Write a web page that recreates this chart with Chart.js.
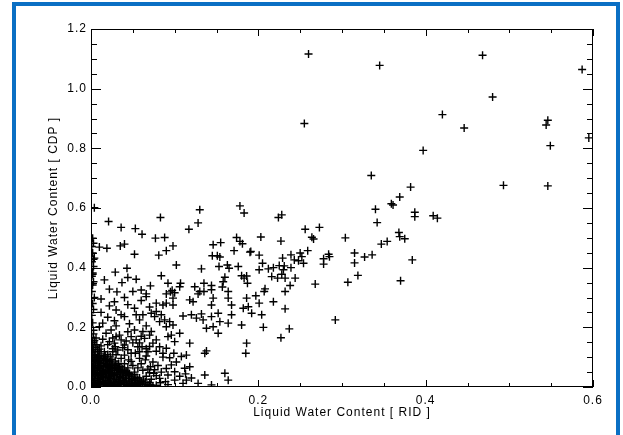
<!DOCTYPE html>
<html>
<head>
<meta charset="utf-8">
<script src="https://cdn.jsdelivr.net/npm/chart.js@4.4.1/dist/chart.umd.min.js"></script>
<style>
html, body { margin: 0; padding: 0; background: #fff; }
#wrap { position: relative; width: 623px; height: 435px; overflow: hidden; }
#frame { position: absolute; left: 12px; top: 2px; width: 600px; height: 450px; border: 4px solid #0a6fc4; border-bottom: none; pointer-events: none; }
canvas { position: absolute; left: 0; top: 0; }
</style>
</head>
<body>
<div id="wrap">
<canvas id="myChart" width="623" height="435"></canvas>
<div id="frame"></div>
</div>
<script>
// LWC pairs: [ RID , CDP ]
const upperPoints = [
  [0.260,1.116],[0.345,1.078],[0.468,1.112],[0.587,1.064],[0.480,0.972],[0.255,0.883],
  [0.420,0.913],[0.446,0.868],[0.546,0.894],[0.544,0.878],[0.595,0.835],[0.549,0.809],
  [0.397,0.793],[0.335,0.709],[0.382,0.670],[0.493,0.676],[0.546,0.674],[0.369,0.637],
  [0.359,0.614],[0.361,0.610],[0.340,0.596],[0.387,0.586],[0.387,0.571],[0.409,0.574],
  [0.414,0.566],[0.342,0.551]
];

const bandPoints = [
  [0.004,0.601],[0.130,0.594],[0.178,0.607],[0.183,0.583],[0.083,0.568],[0.128,0.550],
  [0.021,0.555],[0.117,0.529],[0.036,0.535],[0.053,0.531],[0.061,0.512],[0.077,0.499],
  [0.088,0.501],[0.010,0.469],[0.019,0.465],[0.035,0.473],[0.040,0.479],[0.052,0.445],
  [0.081,0.442],[0.090,0.457],[0.098,0.473],[0.003,0.428],[0.102,0.409],[0.043,0.398],
  [0.029,0.385],[0.002,0.378],[0.016,0.359],[0.044,0.367],[0.054,0.361],[0.037,0.350],
  [0.084,0.373],[0.092,0.348],[0.071,0.339],[0.107,0.348],[0.106,0.336],[0.022,0.328],
  [0.031,0.319],[0.050,0.320],[0.097,0.324],[0.095,0.319],[0.124,0.336],[0.135,0.348],
  [0.144,0.340],[0.144,0.326],[0.130,0.320],[0.135,0.320],[0.146,0.477],[0.155,0.484],
  [0.145,0.440],[0.151,0.440],[0.154,0.436],[0.171,0.457],[0.174,0.501],[0.178,0.488],
  [0.181,0.480],[0.190,0.452],[0.132,0.396],[0.153,0.404],[0.163,0.409],[0.165,0.398],
  [0.176,0.404],[0.160,0.368],[0.158,0.353],[0.180,0.373],[0.183,0.365],[0.186,0.372],
  [0.187,0.348],[0.157,0.335],[0.164,0.320],
  [0.002,0.499],[0.003,0.482],[0.001,0.471],[0.002,0.449],[0.004,0.432],[0.001,0.420],
  [0.003,0.404],[0.002,0.382],[0.001,0.371],[0.003,0.353],[0.002,0.342],
  [0.228,0.577],[0.224,0.568],[0.256,0.529],[0.273,0.535],[0.264,0.502],[0.266,0.496],
  [0.203,0.503],[0.227,0.489],[0.304,0.500],[0.368,0.518],[0.369,0.504],[0.375,0.497],
  [0.347,0.479],[0.354,0.488],[0.191,0.454],[0.201,0.442],[0.229,0.432],[0.239,0.443],
  [0.250,0.449],[0.252,0.437],[0.259,0.457],[0.243,0.426],[0.248,0.423],[0.254,0.415],
  [0.284,0.445],[0.285,0.437],[0.278,0.430],[0.278,0.412],[0.315,0.449],[0.327,0.436],
  [0.336,0.443],[0.315,0.416],[0.384,0.426],[0.205,0.415],[0.201,0.393],[0.218,0.400],
  [0.225,0.407],[0.231,0.406],[0.230,0.393],[0.239,0.400],[0.212,0.396],[0.216,0.370],
  [0.223,0.365],[0.228,0.378],[0.232,0.365],[0.244,0.365],[0.319,0.374],[0.307,0.351],
  [0.268,0.345],[0.238,0.340],[0.370,0.356],[0.208,0.329],[0.207,0.320],[0.232,0.320]
];

const lowPoints = [
  [0.197,0.306],[0.201,0.281],[0.218,0.286],[0.192,0.247],[0.204,0.242],[0.232,0.262],
  [0.206,0.200],[0.237,0.195],[0.227,0.165],[0.292,0.225],
  [0.066,0.312],[0.090,0.312],[0.100,0.316],[0.128,0.312],[0.028,0.286],[0.022,0.272],
  [0.066,0.303],[0.078,0.281],[0.086,0.275],[0.090,0.281],[0.098,0.298],[0.098,0.275],
  [0.118,0.292],[0.122,0.286],[0.146,0.298],[0.144,0.275],[0.164,0.298],[0.168,0.275],
  [0.186,0.298],[0.188,0.269],[0.182,0.264],[0.036,0.242],[0.040,0.236],[0.020,0.234],
  [0.014,0.214],[0.010,0.202],[0.052,0.264],[0.054,0.242],[0.062,0.242],[0.072,0.247],
  [0.078,0.253],[0.076,0.236],[0.084,0.242],[0.088,0.225],[0.082,0.219],[0.094,0.219],
  [0.098,0.208],[0.090,0.202],[0.110,0.238],[0.120,0.242],[0.126,0.231],[0.132,0.245],
  [0.134,0.225],[0.144,0.236],[0.152,0.247],[0.154,0.219],[0.164,0.214],[0.146,0.202],
  [0.138,0.197],[0.152,0.180],[0.168,0.242],[0.180,0.208],[0.186,0.147],[0.185,0.113],
  [0.118,0.147],[0.136,0.113],[0.138,0.121],[0.108,0.102],[0.114,0.107],
  [0.018,0.180],[0.024,0.191],[0.030,0.169],[0.034,0.174],[0.022,0.152],[0.028,0.147],
  [0.036,0.158],[0.040,0.141],[0.048,0.169],[0.052,0.191],[0.054,0.158],[0.062,0.186],
  [0.064,0.163],[0.070,0.174],[0.074,0.147],[0.078,0.158],[0.072,0.186],[0.082,0.135],
  [0.092,0.169],[0.096,0.174],[0.100,0.152],[0.106,0.180],[0.090,0.130],[0.086,0.113],
  [0.068,0.118],[0.058,0.118],[0.048,0.113],[0.040,0.107],[0.032,0.124],[0.016,0.118],
  [0.008,0.124],
  [0.012,0.138],[0.026,0.128],[0.044,0.125],[0.056,0.135],[0.066,0.128],[0.050,0.148],
  [0.060,0.170],[0.044,0.185],[0.030,0.205],[0.066,0.205],[0.046,0.212],[0.058,0.225],
  [0.028,0.222],[0.012,0.250],[0.030,0.258],[0.044,0.276],[0.060,0.290],[0.012,0.295],
  [0.040,0.300],[0.070,0.268],[0.060,0.325],
  [0.001,0.165],[0.003,0.190],[0.002,0.215],[0.001,0.240],[0.003,0.260],[0.002,0.280],
  [0.004,0.300],[0.001,0.320]
];

const corePoints = [
  [0.100,0.051],[0.112,0.063],[0.118,0.068],[0.136,0.040],[0.160,0.046],[0.164,0.023],
  [0.144,0.007],[0.082,0.029],[0.089,0.018],[0.100,0.023],[0.110,0.012],[0.114,0.023],
  [0.075,0.046],[0.083,0.014],[0.113,0.044],[0.086,0.100],[0.099,0.113],[0.065,0.091],
  [0.071,0.068],[0.053,0.113],[0.061,0.135],[0.045,0.091],[0.029,0.135],
  [0.002,0.004],[0.007,0.006],[0.013,0.003],[0.019,0.005],[0.024,0.004],[0.031,0.006],
  [0.036,0.003],[0.043,0.005],[0.049,0.004],[0.055,0.006],[0.061,0.003],[0.068,0.005],[0.074,0.004],
  [0.004,0.012],[0.010,0.013],[0.016,0.011],[0.023,0.012],[0.029,0.014],[0.035,0.011],
  [0.042,0.013],[0.048,0.012],[0.055,0.011],[0.062,0.013],
  [0.001,0.020],[0.008,0.021],[0.014,0.019],[0.020,0.022],[0.027,0.020],[0.033,0.019],
  [0.039,0.021],[0.046,0.020],[0.053,0.022],[0.060,0.019],
  [0.005,0.029],[0.011,0.028],[0.018,0.030],[0.024,0.029],[0.031,0.027],[0.038,0.030],
  [0.045,0.029],[0.052,0.028],
  [0.002,0.037],[0.009,0.038],[0.015,0.036],[0.022,0.037],[0.028,0.039],[0.035,0.036],
  [0.042,0.038],[0.049,0.037],
  [0.006,0.045],[0.012,0.046],[0.019,0.044],[0.025,0.045],[0.032,0.047],[0.039,0.044],[0.046,0.045],
  [0.001,0.053],[0.008,0.054],[0.014,0.052],[0.021,0.053],[0.028,0.055],[0.035,0.052],[0.042,0.053],
  [0.004,0.061],[0.011,0.062],[0.018,0.060],[0.024,0.061],[0.031,0.063],[0.038,0.060],
  [0.002,0.069],[0.009,0.070],[0.015,0.068],[0.022,0.069],[0.029,0.071],[0.036,0.068],
  [0.005,0.077],[0.012,0.078],[0.019,0.076],[0.026,0.077],[0.033,0.079],
  [0.001,0.085],[0.008,0.086],[0.015,0.084],[0.022,0.085],[0.029,0.087],
  [0.004,0.093],[0.011,0.094],[0.018,0.092],[0.025,0.093],
  [0.002,0.101],[0.009,0.102],[0.016,0.100],[0.023,0.101],
  [0.005,0.110],[0.012,0.111],[0.020,0.109],
  [0.003,0.126],[0.010,0.127],
  [0.002,0.141],[0.007,0.142],
  [0.004,0.156]
];

// the solid black mass near the origin, second pass between the rows above
const coreFillPoints = [
  [0.005,0.008],[0.011,0.009],[0.017,0.007],[0.022,0.009],[0.028,0.008],[0.034,0.007],
  [0.040,0.009],[0.046,0.008],[0.052,0.009],[0.058,0.008],[0.065,0.009],[0.071,0.008],
  [0.078,0.006],[0.003,0.016],[0.009,0.017],[0.015,0.015],[0.021,0.016],[0.027,0.017],
  [0.033,0.015],[0.040,0.016],[0.046,0.017],[0.052,0.015],[0.058,0.016],[0.065,0.017],
  [0.070,0.014],[0.004,0.024],[0.011,0.025],[0.017,0.023],[0.023,0.024],[0.030,0.025],
  [0.036,0.023],[0.042,0.024],[0.049,0.025],[0.056,0.024],[0.063,0.023],
  [0.002,0.033],[0.008,0.033],[0.014,0.032],[0.021,0.033],[0.027,0.034],[0.034,0.032],
  [0.041,0.033],[0.048,0.034],[0.055,0.032],[0.005,0.041],[0.012,0.041],[0.018,0.040],
  [0.025,0.041],[0.031,0.042],[0.038,0.040],[0.045,0.041],[0.052,0.042],
  [0.003,0.049],[0.010,0.049],[0.017,0.048],[0.023,0.049],[0.030,0.050],[0.037,0.048],
  [0.044,0.049],[0.006,0.057],[0.013,0.057],[0.020,0.056],[0.026,0.057],[0.033,0.058],
  [0.040,0.056],[0.002,0.065],[0.008,0.065],[0.015,0.064],[0.021,0.065],[0.028,0.066],
  [0.034,0.064],[0.005,0.073],[0.011,0.073],[0.018,0.072],[0.024,0.073],[0.031,0.074],
  [0.003,0.081],[0.010,0.081],[0.017,0.080],[0.024,0.081],[0.006,0.089],[0.013,0.089],
  [0.020,0.088],[0.002,0.097],[0.008,0.097],[0.015,0.096],[0.004,0.105],[0.010,0.106],
  [0.017,0.104],[0.002,0.117],[0.008,0.118],[0.005,0.133],[0.002,0.149],[0.006,0.164],
  [0.003,0.178]
];

// thinning crosses around the edge of the black mass
const fringePoints = [
  [0.058,0.030],[0.066,0.036],[0.072,0.026],[0.078,0.038],[0.070,0.048],[0.062,0.056],
  [0.056,0.064],[0.050,0.072],[0.060,0.078],[0.068,0.060],[0.076,0.058],[0.084,0.050],
  [0.092,0.040],[0.090,0.062],[0.080,0.072],[0.074,0.084],[0.066,0.104],[0.058,0.096],
  [0.048,0.086],[0.040,0.078],[0.044,0.064],[0.052,0.050],[0.036,0.096],[0.030,0.108],
  [0.026,0.118],[0.038,0.132],[0.020,0.142],[0.014,0.160],[0.026,0.164],[0.042,0.154],
  [0.058,0.148],[0.070,0.136],[0.078,0.120],[0.094,0.098],[0.102,0.084],[0.096,0.074],
  [0.106,0.036],[0.092,0.008],[0.120,0.030],[0.128,0.012]
];

const xTicks = [0.0, 0.2, 0.4, 0.6];
const yTicks = [0.0, 0.2, 0.4, 0.6, 0.8, 1.0, 1.2];
const xMinorStep = 0.05;
const yMinorStep = 0.05;

const allPoints = upperPoints.concat(bandPoints, lowPoints, corePoints, coreFillPoints, fringePoints)
  .map(p => ({x: p[0], y: p[1]}));

// IDL style box with inward major/minor ticks on all four sides
const boxTicks = {
  id: 'boxTicks',
  beforeDraw(chart) {
    chart.ctx.letterSpacing = '1px';
  },
  afterDatasetsDraw(chart) {
    const ctx = chart.ctx;
    const a = chart.chartArea;
    const xs = chart.scales.x, ys = chart.scales.y;
    ctx.save();
    ctx.strokeStyle = '#000';
    ctx.lineWidth = 1;
    ctx.strokeRect(a.left + 0.5, a.top + 0.5, a.right - a.left - 1, a.bottom - a.top - 1);
    ctx.beginPath();
    const nx = Math.round((xs.max - xs.min) / xMinorStep);
    for (let i = 0; i <= nx; i++) {
      const px = Math.round(xs.getPixelForValue(xs.min + i * xMinorStep)) + 0.5;
      const len = i % 4 === 0 ? 7 : 4;
      ctx.moveTo(px, a.bottom); ctx.lineTo(px, a.bottom - len);
      ctx.moveTo(px, a.top); ctx.lineTo(px, a.top + len);
    }
    const ny = Math.round((ys.max - ys.min) / yMinorStep);
    for (let i = 0; i <= ny; i++) {
      const py = Math.round(ys.getPixelForValue(ys.min + i * yMinorStep)) + 0.5;
      const len = i % 4 === 0 ? 10 : 6;
      ctx.moveTo(a.left, py); ctx.lineTo(a.left + len, py);
      ctx.moveTo(a.right, py); ctx.lineTo(a.right - len, py);
    }
    ctx.stroke();
    ctx.restore();
  }
};

const tickFont = {family: 'Liberation Sans, Arial, sans-serif', size: 12};

var ctx = document.getElementById('myChart').getContext('2d');
var chart = new Chart(ctx, {
  type: 'scatter',
  data: {
    datasets: [{
      data: allPoints,
      pointStyle: 'cross',
      pointRadius: 4,
      borderColor: '#000',
      backgroundColor: '#000',
      borderWidth: 1.4,
      clip: 0
    }]
  },
  options: {
    responsive: false,
    animation: false,
    events: [],
    layout: {padding: {left: 0, right: 30, top: 29, bottom: 0}},
    plugins: {legend: {display: false}, tooltip: {enabled: false}},
    scales: {
      x: {
        type: 'linear', min: 0, max: 0.6,
        afterBuildTicks: s => { s.ticks = xTicks.map(v => ({value: v})); },
        afterFit: s => { s.height = 48; },
        grid: {display: false, drawTicks: false},
        border: {display: false},
        ticks: {color: '#000', font: tickFont, padding: 6, maxRotation: 0,
          callback: v => v.toFixed(1)},
        title: {display: true, text: 'Liquid Water Content [ RID ]', color: '#000',
          font: tickFont, padding: {top: 0, bottom: 15}}
      },
      y: {
        type: 'linear', min: 0, max: 1.2,
        afterBuildTicks: s => { s.ticks = yTicks.map(v => ({value: v})); },
        afterFit: s => { s.width = 91; },
        grid: {display: false, drawTicks: false},
        border: {display: false},
        ticks: {color: '#000', font: tickFont, padding: 4,
          callback: v => v.toFixed(1)},
        title: {display: true, text: 'Liquid Water Content [ CDP ]', color: '#000',
          font: tickFont, padding: {top: 46, bottom: 0}}
      }
    }
  },
  plugins: [boxTicks]
});
</script>
</body>
</html>
